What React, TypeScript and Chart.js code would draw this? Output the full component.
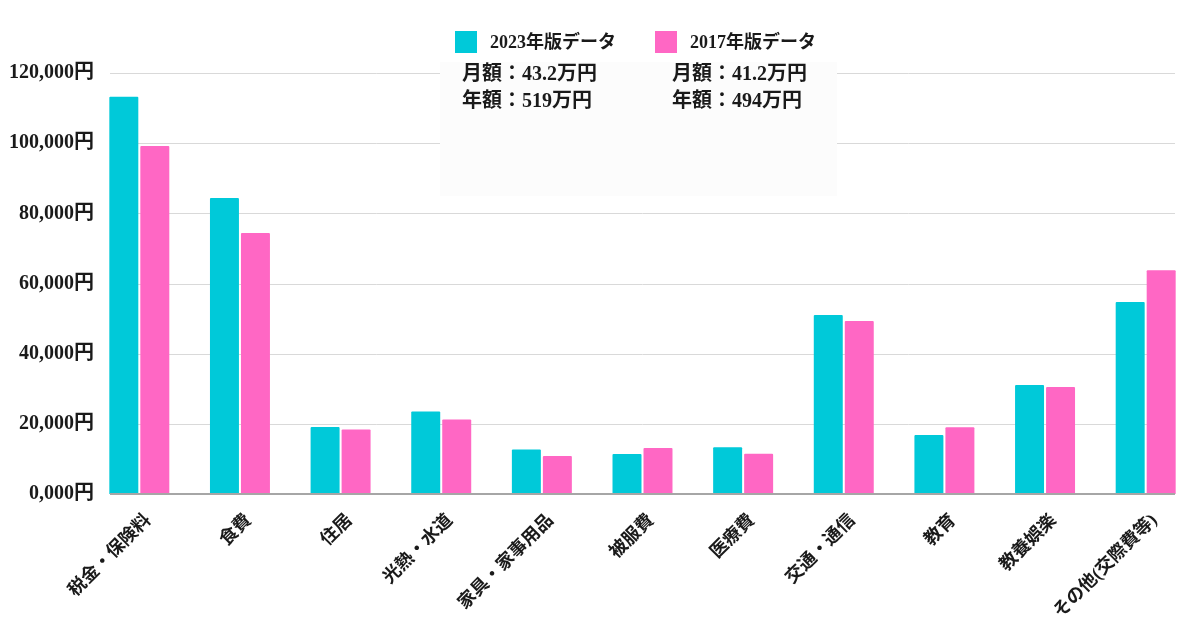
import React, { useEffect, useRef } from 'react';
import { Chart, registerables } from 'chart.js';

Chart.register(...registerables);

const categories = ['税金・保険料', '食費', '住居', '光熱・水道', '家具・家事用品', '被服費', '医療費', '交通・通信', '教育', '教養娯楽', 'その他(交際費等)'];
const values2023 = [113200, 84400, 19100, 23500, 12700, 11400, 13300, 51000, 16800, 31100, 54700];
const values2017 = [99200, 74400, 18400, 21200, 10800, 13100, 11500, 49300, 19000, 30500, 63800];
const seriesLabels = ['2023年版データ', '2017年版データ'];
const seriesColors = ['#00c9d9', '#ff67c4'];
const monthlyTexts = ['月額：43.2万円', '月額：41.2万円'];
const yearlyTexts = ['年額：519万円', '年額：494万円'];
const yTickValues = [0, 20000, 40000, 60000, 80000, 100000, 120000];
const yTickLabels = ['0,000円', '20,000円', '40,000円', '60,000円', '80,000円', '100,000円', '120,000円'];

const FONT = '"Liberation Serif", "Noto Sans CJK JP", serif';
const TEXT = '#1a1a1a';

const decorPlugin = {
  id: 'decor',
  beforeDatasetsDraw(chart: any) {
    const ctx = chart.ctx;
    const y = chart.scales.y;
    const left = 110;
    const right = 1175;
    ctx.save();
    ctx.strokeStyle = '#d9d9d9';
    ctx.lineWidth = 1;
    yTickValues.forEach((v) => {
      if (v === 0) return;
      const py = Math.round(y.getPixelForValue(v)) + 0.5;
      ctx.beginPath();
      ctx.moveTo(left, py);
      ctx.lineTo(right, py);
      ctx.stroke();
    });
    ctx.fillStyle = '#fcfcfc';
    ctx.fillRect(440, 62, 397, 134);
    ctx.restore();
  },
  afterDatasetsDraw(chart: any) {
    const ctx = chart.ctx;
    const y = chart.scales.y;
    const by = Math.round(y.getPixelForValue(0));
    ctx.save();
    ctx.strokeStyle = '#a6a6a6';
    ctx.lineWidth = 2;
    ctx.beginPath();
    ctx.moveTo(110, by);
    ctx.lineTo(1175, by);
    ctx.stroke();
    ctx.restore();
  },
  afterDraw(chart: any) {
    const ctx = chart.ctx;
    const y = chart.scales.y;
    ctx.save();
    // y tick labels
    ctx.fillStyle = TEXT;
    ctx.font = `bold 20px ${FONT}`;
    ctx.textAlign = 'right';
    ctx.textBaseline = 'middle';
    yTickValues.forEach((v, i) => {
      ctx.fillText(yTickLabels[i], 94, y.getPixelForValue(v));
    });
    // legend + summary
    const legendX = [455, 655];
    const textX = [462, 672];
    ctx.textAlign = 'left';
    chart.data.datasets.forEach((ds: any, i: number) => {
      ctx.fillStyle = ds.backgroundColor;
      ctx.fillRect(legendX[i], 31, 22, 22);
      ctx.fillStyle = TEXT;
      ctx.font = `bold 18px ${FONT}`;
      ctx.fillText(ds.label, legendX[i] + 35, 43);
      ctx.font = `bold 20px ${FONT}`;
      ctx.fillText(monthlyTexts[i], textX[i], 75);
      ctx.fillText(yearlyTexts[i], textX[i], 102);
    });
    ctx.restore();
  },
};

export default function App() {
  const ref = useRef<HTMLCanvasElement>(null);
  useEffect(() => {
    if (!ref.current) return;
    const chart = new Chart(ref.current, {
      type: 'bar',
      data: {
        labels: categories,
        datasets: [
          { label: seriesLabels[0], data: values2023, backgroundColor: seriesColors[0], borderRadius: 1 },
          { label: seriesLabels[1], data: values2017, backgroundColor: seriesColors[1], borderRadius: 1 },
        ],
      },
      options: {
        responsive: false,
        animation: false,
        devicePixelRatio: 1,
        layout: { padding: { top: 73, right: 4, left: 0, bottom: 0 } },
        datasets: { bar: { categoryPercentage: 0.616, barPercentage: 0.935 } },
        plugins: { legend: { display: false }, tooltip: { enabled: false } },
        scales: {
          x: {
            offset: true,
            grid: { display: false, drawTicks: false },
            border: { display: false },
            ticks: {
              minRotation: 45,
              maxRotation: 45,
              padding: 16,
              labelOffset: 9,
              color: TEXT,
              font: { family: FONT, size: 18, weight: 'bold' },
            },
            afterFit(scale: any) { scale.height = 136; },
          },
          y: {
            min: 0,
            max: 120000,
            grid: { display: false, drawTicks: false },
            border: { display: false },
            ticks: { display: false, stepSize: 20000 },
            afterFit(scale: any) { scale.width = 89; },
          },
        },
      },
      plugins: [decorPlugin],
    } as any);
    return () => chart.destroy();
  }, []);
  return (
    <div style={{ position: 'absolute', left: 0, top: 0, width: 1200, height: 630, background: '#fff' }}>
      <canvas ref={ref} width={1200} height={630} />
    </div>
  );
}
